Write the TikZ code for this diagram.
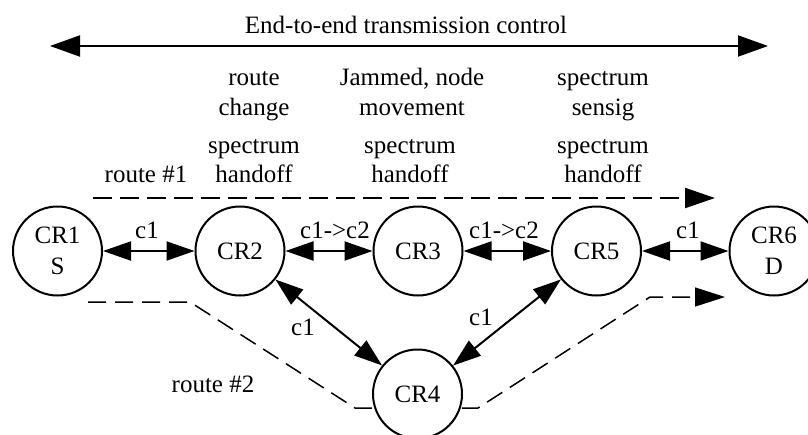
\documentclass[tikz,border=0pt]{standalone}
\usepackage{fontspec}
\setmainfont{Liberation Serif}
\usetikzlibrary{arrows.meta}
\begin{document}
\begin{tikzpicture}[x=1pt,y=-1pt,
  txt/.style={font=\fontsize{25}{30}\selectfont, inner sep=0pt, align=center},
  cr/.style={circle, draw, line width=2pt, fill=white, minimum size=89pt, inner sep=0pt,
    font=\fontsize{25}{31}\selectfont, align=center},
  link/.style={line width=2pt, {Triangle[length=28pt,width=19pt]}-{Triangle[length=28pt,width=19pt]}},
  routeA/.style={line width=2pt, dash pattern=on 19pt off 8pt, -{Triangle[length=30pt,width=20pt]}},
  routeB/.style={line width=1.5pt, dash pattern=on 18pt off 9pt, -{Triangle[length=30pt,width=19pt]}}
]
\useasboundingbox (0,0) rectangle (808,434);

% top arrow
\coordinate (tl) at (50,46);
\coordinate (tr) at (768,46);
\draw[line width=2pt, {Triangle[length=30pt,width=21pt]}-{Triangle[length=30pt,width=21pt]}] (tl) -- (tr);
\node[txt, anchor=base] (title) at (406,33) {End-to-end transmission control};

% column texts
\node[txt, anchor=base] (a1) at (254,85) {route};
\node[txt, anchor=base] (a2) at (254,115) {change};
\node[txt, anchor=base] (a3) at (254,153) {spectrum};
\node[txt, anchor=base] (a4) at (254,182) {handoff};
\node[txt, anchor=base] (b1) at (412,85) {Jammed, node};
\node[txt, anchor=base] (b2) at (412,115) {movement};
\node[txt, anchor=base] (b3) at (410,153) {spectrum};
\node[txt, anchor=base] (b4) at (410,182) {handoff};
\node[txt, anchor=base] (c1t) at (603,85) {spectrum};
\node[txt, anchor=base] (c2t) at (603,115) {sensig};
\node[txt, anchor=base] (c3t) at (603,153) {spectrum};
\node[txt, anchor=base] (c4t) at (603,182) {handoff};
\node[txt, anchor=base] (r1) at (146,182) {route \#1};
\node[txt, anchor=base] (r2) at (213,392) {route \#2};

% routes
\coordinate (r1s) at (93,198);
\coordinate (r1e) at (715,198);
\draw[routeA] (r1s) -- (r1e);
\coordinate (p1) at (88,302);
\coordinate (p2) at (190,302);
\coordinate (p3) at (355,408);
\coordinate (p4) at (478,408);
\coordinate (p5) at (650,297);
\coordinate (p6) at (725,297);
\draw[routeB] (p1) -- (p2) -- (p3) -- (p4) -- (p5) -- (p6);

% nodes
\node[cr] (CR1) at (57.5,251) {CR1\\S};
\node[cr] (CR2) at (240,251) {CR2};
\node[cr] (CR3) at (418,251) {CR3};
\node[cr] (CR5) at (596.5,251) {CR5};
\node[cr] (CR6) at (774,251) {CR6\\D};
\node[cr] (CR4) at (417.5,394) {CR4};

% links
\draw[link] (CR1) -- (CR2);
\draw[link] (CR2) -- (CR3);
\draw[link] (CR3) -- (CR5);
\draw[link] (CR5) -- (CR6);
\draw[link] (CR2) -- (CR4);
\draw[link] (CR5) -- (CR4);

% link labels
\node[txt, anchor=base] (l1) at (147,238) {c1};
\node[txt, anchor=base] (l2) at (335,238) {c1->c2};
\node[txt, anchor=base] (l3) at (504,238) {c1->c2};
\node[txt, anchor=base] (l4) at (688,238) {c1};
\node[txt, anchor=base] (l5) at (303,335) {c1};
\node[txt, anchor=base] (l6) at (481,325) {c1};
\end{tikzpicture}
\end{document}
